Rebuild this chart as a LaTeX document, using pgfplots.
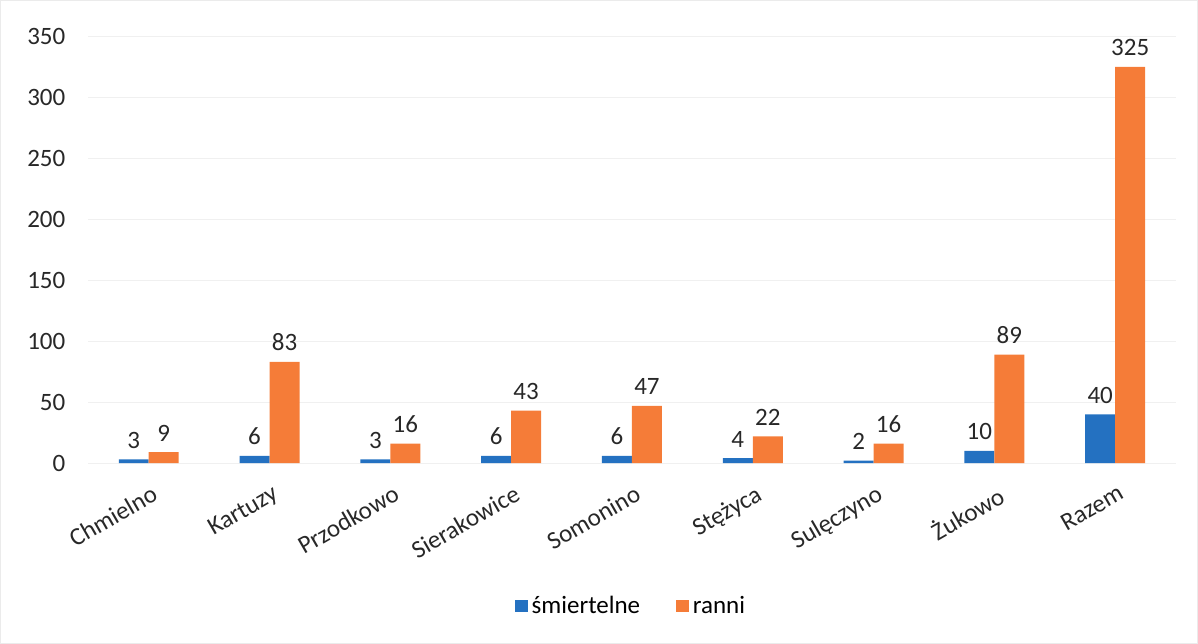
\documentclass[border=0pt]{standalone}
\usepackage{pgfplots}
\pgfplotsset{compat=1.18}
\usepackage{fontspec}
\setmainfont{Carlito}
\definecolor{cblue}{RGB}{36,113,193}
\definecolor{corange}{RGB}{245,124,56}
\definecolor{ctext}{RGB}{40,40,40}
\begin{document}
\begin{tikzpicture}
\draw[black!8] (-44pt,-90pt) rectangle (555pt,231.5pt);
\begin{axis}[
  scale only axis,
  width=544pt, height=213.5pt,
  ybar=0pt, bar width=15pt,
  xmin=-0.5, xmax=8.5,
  ymin=0, ymax=350,
  ytick={0,50,...,350},
  xtick=data,
  xticklabels={Chmielno,Kartuzy,Przodkowo,Sierakowice,Somonino,Stężyca,Sulęczyno,Żukowo,Razem},
  axis line style={draw=none},
  major tick length=0pt,
  ymajorgrids, grid style={black!6, line width=0.6pt},
  font=\fontsize{12.5}{14}\selectfont,
  tick label style={text=ctext},
  /pgf/number format/assume math mode=true,
  yticklabel style={xshift=-8pt},
  xticklabel style={rotate=30, anchor=north east, yshift=-6pt, xshift=-1pt},
  nodes near coords,
  nodes near coords style={text=ctext, font=\fontsize{12.5}{14}\selectfont, yshift=2pt},
  legend style={at={(0.5,-0.335)}, anchor=center, draw=none, legend columns=2,
    font=\fontsize{12.5}{14}\selectfont, /tikz/every even column/.append style={column sep=16pt}},
  legend image code/.code={\fill[#1] (0pt,-3.2pt) rectangle (6.4pt,3.2pt);},
]
\addplot[fill=cblue, draw=none] coordinates {(0,3) (1,6) (2,3) (3,6) (4,6) (5,4) (6,2) (7,10) (8,40)};
\addplot[fill=corange, draw=none] coordinates {(0,9) (1,83) (2,16) (3,43) (4,47) (5,22) (6,16) (7,89) (8,325)};
\legend{śmiertelne, ranni}
\end{axis}
\end{tikzpicture}
\end{document}
